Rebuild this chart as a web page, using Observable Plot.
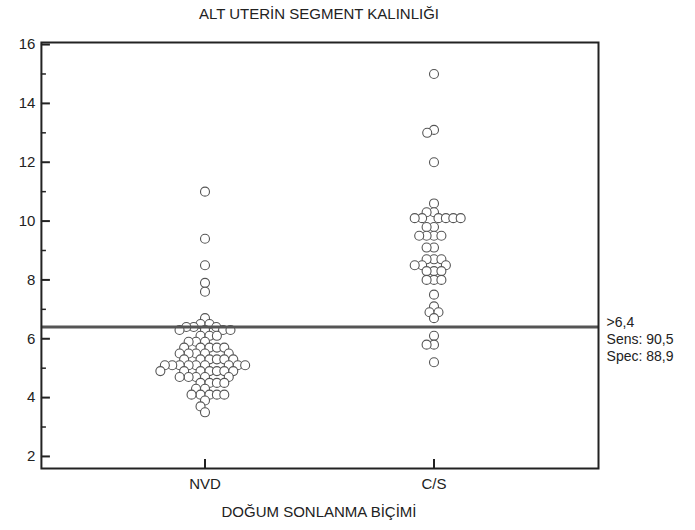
<!DOCTYPE html>
<html><head><meta charset="utf-8">
<script src="https://cdn.jsdelivr.net/npm/d3@7"></script>
<script src="https://cdn.jsdelivr.net/npm/@observablehq/plot@0.6"></script>
<style>
body{margin:0;background:#fff;font-family:"Liberation Sans",Arial,sans-serif;color:#222;}
#title{width:558px;margin-left:40px;height:28px;line-height:28px;text-align:center;font-size:15px;}
#xtitle{width:558px;margin-left:40px;height:28px;line-height:20px;text-align:center;font-size:15px;}
#chart svg{display:block;}
</style></head><body>
<div id="title"></div>
<div id="chart"></div>
<div id="xtitle"></div>
<script>
const chartTitle = "ALT UTERİN SEGMENT KALINLIĞI";
const xTitle = "DOĞUM SONLANMA BİÇİMİ";
const groups = ["NVD", "C/S"];
const nvdValues = [
  11.0, 9.4, 8.5, 7.9, 7.6, 6.7, 6.5, 6.5,
  6.4, 6.4, 6.4,
  6.3, 6.3, 6.3, 6.3,
  6.1, 6.1, 6.1,
  5.9, 5.9, 5.9,
  5.7, 5.7, 5.7, 5.7, 5.7,
  5.5, 5.5, 5.5, 5.5, 5.5,
  5.3, 5.3, 5.3, 5.3, 5.3, 5.3,
  5.1, 5.1, 5.1, 5.1, 5.1, 5.1, 5.1, 5.1, 5.1,
  4.9, 4.9, 4.9, 4.9, 4.9, 4.9, 4.9,
  4.7, 4.7, 4.7, 4.7, 4.7,
  4.5, 4.5, 4.5, 4.5,
  4.3, 4.3,
  4.1, 4.1, 4.1, 4.1, 4.1,
  3.9, 3.7, 3.5
];
const csValues = [
  15.0, 13.1, 13.0, 12.0, 10.6,
  10.3, 10.3,
  10.1, 10.1, 10.1, 10.1, 10.1, 10.1,
  9.8, 9.8,
  9.5, 9.5, 9.5, 9.5,
  9.1, 9.1,
  8.7, 8.7, 8.7,
  8.5, 8.5, 8.5,
  8.3, 8.3, 8.3,
  8.0, 8.0, 8.0,
  7.5, 7.1, 6.9, 6.9, 6.7,
  6.1, 5.8, 5.8, 5.2
];
const cutoff = 6.4;
const cutoffLabel = [">6,4", "Sens: 90,5", "Spec: 88,9"];
const majorTicks = [2, 4, 6, 8, 10, 12, 14, 16];
const minorTicks = [3, 5, 7, 9, 11, 13, 15];
const yDomain = [1.59, 16.07];

document.getElementById("title").textContent = chartTitle;
document.getElementById("xtitle").textContent = xTitle;

const data = [
  ...nvdValues.map(v => ({group: "NVD", value: v})),
  ...csValues.map(v => ({group: "C/S", value: v}))
];

// layout
const W = 695, H = 474, mL = 40, mR = 97, mT = 14, mB = 34;
const padOuter = 0.2135;
const innerW = W - mL - mR;
const step = innerW / (groups.length + 2 * padOuter);
const pad = padOuter * step;           // empty space between frame edge and first/last facet
const span = (groups.length - 1) * step; // facets to the right of the first one

const ink = "#222";
const plot = Plot.plot({
  width: W,
  height: H,
  marginTop: mT,
  marginLeft: mL,
  marginRight: mR,
  marginBottom: mB,
  style: {fontFamily: "'Liberation Sans', Arial, sans-serif", fontSize: "15px", color: ink, background: "#fff"},
  fx: {domain: groups, paddingInner: 0, paddingOuter: padOuter, label: null},
  y: {domain: yDomain, label: null},
  marks: [
    Plot.dot(data, Plot.dodgeX({anchor: "middle", padding: -1.6}, {fx: "group", y: "value", r: 4.5, stroke: "#555", fill: "white", strokeWidth: 1.1})),
    Plot.ruleY([cutoff], {facetAnchor: "left", insetLeft: -pad, insetRight: -(pad + span), stroke: "#555", strokeWidth: 3}),
    Plot.frame({facetAnchor: "left", insetLeft: -pad, insetRight: -(pad + span), stroke: ink, strokeWidth: 2}),
    Plot.axisY(majorTicks, {tickSize: 0, tickPadding: 6, dx: -pad, label: null}),
    Plot.axisY(majorTicks, {tickSize: -9, fill: "none", dx: -pad, label: null, strokeWidth: 2, stroke: ink}),
    Plot.axisY(minorTicks, {tickSize: -5, fill: "none", dx: -pad, label: null, strokeWidth: 1.5, stroke: ink}),
    Plot.axisFx({anchor: "bottom", tickSize: 0, tickPadding: 10, label: null}),
    Plot.axisFx({anchor: "bottom", tickSize: -9, fill: "none", label: null, strokeWidth: 2, stroke: ink}),
    Plot.text([{y: cutoff, t: cutoffLabel.join("\n")}], {facetAnchor: "right", y: "y", text: "t", frameAnchor: "right", textAnchor: "start", lineAnchor: "top", dx: pad + 9, dy: -12, lineHeight: 1.2, fontSize: 14})
  ]
});
document.getElementById("chart").appendChild(plot);
</script>
</body></html>
